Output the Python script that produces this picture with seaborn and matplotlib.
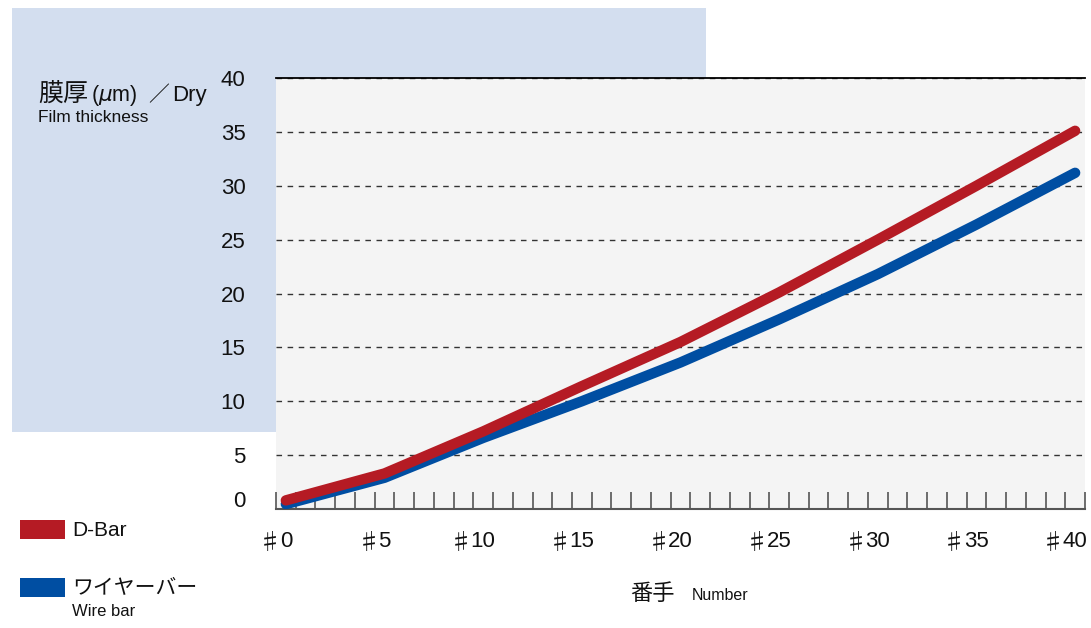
import numpy as np
import pandas as pd
import matplotlib
matplotlib.use('Agg')
import matplotlib.pyplot as plt
import matplotlib.transforms as mtransforms
from matplotlib.patches import Rectangle
import seaborn as sns

# values
numbers = [0, 5, 10, 15, 20, 25, 30, 35, 40]
d_bar = [0.8, 3.3, 7.2, 11.4, 15.5, 20.1, 25.0, 30.0, 35.1]
wire_bar = [0.45, 2.9, 6.6, 10.0, 13.6, 17.6, 21.8, 26.4, 31.2]
y_ticks = [0, 5, 10, 15, 20, 25, 30, 35, 40]
x_labels = [str(n) for n in numbers]

RED = '#B51B24'
BLUE = '#004EA2'
LATIN = ['Liberation Sans', 'Noto Sans CJK JP', 'DejaVu Sans']
CJK = ['Noto Sans CJK JP', 'Liberation Sans', 'DejaVu Sans']
INK = '#111111'
TICK_FS = 16

sns.set_style('white')
plt.rcParams['font.family'] = LATIN
plt.rcParams['mathtext.fontset'] = 'dejavusans'

df = pd.DataFrame({'number': numbers, 'D-Bar': d_bar, 'Wire bar': wire_bar})

fig = plt.figure(figsize=(10.91, 6.28), dpi=100)
fig.patch.set_facecolor('white')


def px(x, y):
    """pixel position from the top-left corner -> figure fraction"""
    return x / 1091, 1 - y / 628


# light blue panel behind the upper-left part
fig.patches.append(Rectangle(px(12, 432), 694 / 1091, 424 / 628,
                             transform=fig.transFigure, facecolor='#D3DEEF',
                             edgecolor='none', zorder=-5))

ax = fig.add_axes([276 / 1091, 1 - 509 / 628, 809 / 1091, 431 / 628])
ax.set_facecolor('#F4F4F4')

sns.lineplot(data=df, x='number', y='Wire bar', ax=ax, color=BLUE, lw=7.5,
             solid_capstyle='round', solid_joinstyle='round', zorder=3)
sns.lineplot(data=df, x='number', y='D-Bar', ax=ax, color=RED, lw=7.5,
             solid_capstyle='round', solid_joinstyle='round', zorder=4)

ax.set_xlim(-0.5, 40.5)
ax.set_ylim(0, 40)
ax.set_xlabel('')
ax.set_ylabel('')

ax.set_yticks(y_ticks)
ax.set_yticklabels([str(v) for v in y_ticks], fontsize=TICK_FS, color=INK)
ax.set_xticks(numbers)
ax.set_xticklabels(x_labels, fontsize=TICK_FS, color=INK)
ax.set_xticks(np.arange(-0.5, 41, 1), minor=True)
ax.tick_params(axis='y', which='major', left=False, length=0, pad=22)
ax.tick_params(axis='x', which='major', bottom=False, length=0, pad=16)
ax.tick_params(axis='x', which='minor', bottom=True, direction='in', length=12,
               width=1.2, color='#555555')

# the zero label sits a little above the axis line
offset = mtransforms.ScaledTranslation(0, 10 / 100, fig.dpi_scale_trans)
lab0 = ax.get_yticklabels()[0]
lab0.set_transform(lab0.get_transform() + offset)

# full-width sharp sign in front of each number (digits stay centred)
for n, s in zip(numbers, x_labels):
    half = len(s) * 0.556 * TICK_FS / 2
    ax.annotate('♯', xy=(n, 0), xycoords=('data', 'axes fraction'),
                xytext=(-half + 1, -16), textcoords='offset points',
                family=CJK, fontsize=TICK_FS, ha='right', va='top', color=INK,
                annotation_clip=False)

ax.set_axisbelow(True)
ax.yaxis.grid(True, linestyle=(0, (4, 4)), color='#333333', lw=1)
ax.xaxis.grid(False)

for side in ['left', 'right']:
    ax.spines[side].set_visible(False)
ax.spines['top'].set_color('black')
ax.spines['top'].set_linewidth(1.3)
ax.spines['bottom'].set_color('#555555')
ax.spines['bottom'].set_linewidth(1.5)

# y axis title, built from pieces like the original
fig.text(*px(38, 101), '膜厚', family=CJK, fontsize=18, va='baseline', ha='left', color=INK)
fig.text(*px(91, 101), r'($\mu$m)', fontsize=15.5, va='baseline', ha='left', color=INK)
fig.text(*px(148, 101), '／', family=CJK, fontsize=15, va='baseline', ha='left', color=INK)
fig.text(*px(172, 101), 'Dry', fontsize=16, va='baseline', ha='left', color=INK)
fig.text(*px(38, 117), 'Film thickness', fontsize=12.5, va='center', ha='left', color=INK)

# x axis title
fig.text(*px(630, 600), '番手', family=CJK, fontsize=16, va='baseline', ha='left', color=INK)
fig.text(*px(692, 600), 'Number', fontsize=11.5, va='baseline', ha='left', color=INK)

# legend
fig.patches.append(Rectangle(px(20, 539), 45 / 1091, 19 / 628,
                             transform=fig.transFigure, facecolor=RED, edgecolor='none'))
fig.patches.append(Rectangle(px(20, 597), 45 / 1091, 19 / 628,
                             transform=fig.transFigure, facecolor=BLUE, edgecolor='none'))
fig.text(*px(72, 530), 'D-Bar', fontsize=15, va='center', ha='left', color=INK)
fig.text(*px(72, 587), 'ワイヤーバー', family=CJK, fontsize=15, va='center', ha='left', color=INK)
fig.text(*px(72, 612), 'Wire bar', fontsize=12, va='center', ha='left', color=INK)

fig.savefig('out.png', dpi=100)
